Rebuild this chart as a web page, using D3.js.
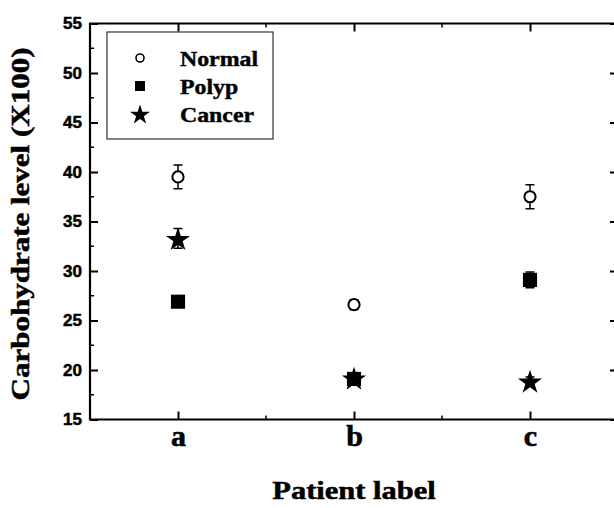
<!DOCTYPE html>
<html>
<head>
<meta charset="utf-8">
<script src="https://cdn.jsdelivr.net/npm/d3@7"></script>
<style>
  body { margin: 0; background: #fff; }
  .axis .domain { display: none; }
  .axis line { stroke: #000; stroke-width: 2; }
</style>
</head>
<body>
<div id="chart"></div>
<script>
// data
const patients = ["a", "b", "c"];
const normal = [39.5, 26.6, 37.5];
const normalErr = [1.2, 0.5, 1.2];
const polyp = [26.9, 19.1, 29.1];
const polypErr = [0.5, 0.5, 0.8];
const cancer = [33.3, 19.2, 18.9];
const cancerErr = [1.0, 0.5, 0.4];
const yTicks = [15, 20, 25, 30, 35, 40, 45, 50, 55];
const yMinor = [17.5, 22.5, 27.5, 32.5, 37.5, 42.5, 47.5, 52.5];
const seriesNames = ["Normal", "Polyp", "Cancer"];

let margin = {top: 23.5, right: -4, bottom: 88.5, left: 90},
  width = 614 - margin.left - margin.right,
  height = 508 - margin.top - margin.bottom;

let svg = d3.select("#chart")
  .append("svg")
    .attr("width", 614)
    .attr("height", 508)
  .append("g")
    .attr("transform", "translate(" + margin.left + "," + margin.top + ")");

let x = d3.scalePoint()
  .domain(patients)
  .range([0, width])
  .padding(0.5);

let y = d3.scaleLinear()
  .domain([15, 55])
  .range([height, 0]);

let serif = "'Liberation Serif', 'Times New Roman', serif";
let sans = "'Liberation Sans', Arial, sans-serif";

// stretch text a bit wider, the scan's lettering is broad
function widen(sel, k) {
  sel.each(function() {
    let w = this.getComputedTextLength();
    d3.select(this).attr("textLength", w * k).attr("lengthAdjust", "spacingAndGlyphs");
  });
}

// heavier strokes like the scanned print
function heavy(sel, w) {
  sel.attr("fill", "#000").attr("stroke", "#000").attr("stroke-width", w);
}

let xMinor = patients.slice(1).map(p => x(p) - x.step() / 2);

// bottom axis
svg.append("g")
  .attr("class", "axis")
  .attr("transform", "translate(0," + height + ")")
  .call(d3.axisBottom(x).tickSizeInner(-8).tickSizeOuter(0).tickPadding(5.5))
  .selectAll("text")
    .style("font-family", serif)
    .style("font-weight", "bold")
    .style("font-size", "30px")
    .call(heavy, 0.6);

// top axis
svg.append("g")
  .attr("class", "axis")
  .call(d3.axisTop(x).tickSizeInner(-8).tickSizeOuter(0).tickFormat(""));

// left axis
svg.append("g")
  .attr("class", "axis")
  .call(d3.axisLeft(y).tickValues(yTicks).tickSizeInner(-8).tickSizeOuter(0).tickPadding(8))
  .selectAll("text")
    .style("font-family", sans)
    .style("font-weight", "bold")
    .style("font-size", "17px")
    .call(heavy, 0.5);

// right axis
svg.append("g")
  .attr("class", "axis")
  .attr("transform", "translate(" + width + ",0)")
  .call(d3.axisRight(y).tickValues(yTicks).tickSizeInner(-8).tickSizeOuter(0).tickFormat(""));

// minor ticks
svg.selectAll(".ymin")
  .data(yMinor)
  .enter()
  .append("path")
    .attr("d", d => "M0," + y(d) + "h4M" + width + "," + y(d) + "h-4")
    .attr("stroke", "#000")
    .attr("stroke-width", 1.5);

svg.selectAll(".xmin")
  .data(xMinor)
  .enter()
  .append("path")
    .attr("d", d => "M" + d + "," + height + "v-4M" + d + ",0v4")
    .attr("stroke", "#000")
    .attr("stroke-width", 1.5);

// frame
svg.append("path")
  .attr("d", "M0,0V" + height + "H" + width + "V0Z")
  .attr("fill", "none")
  .attr("stroke", "#000")
  .attr("stroke-width", 2.2);

// points with error bars
let rows = [];
patients.forEach((p, i) => {
  rows.push({p: p, v: normal[i], e: normalErr[i], s: "Normal"});
  rows.push({p: p, v: polyp[i], e: polypErr[i], s: "Polyp"});
  rows.push({p: p, v: cancer[i], e: cancerErr[i], s: "Cancer"});
});

svg.selectAll(".err")
  .data(rows)
  .enter()
  .append("path")
    .attr("d", d => {
      let cx = x(d.p), y0 = y(d.v - d.e), y1 = y(d.v + d.e);
      return "M" + cx + "," + y0 + "V" + y1 +
        "M" + (cx - 4.5) + "," + y0 + "h9M" + (cx - 4.5) + "," + y1 + "h9";
    })
    .attr("stroke", "#000")
    .attr("stroke-width", 1.5)
    .attr("fill", "none");

function marker(g, s, big) {
  if (s === "Normal") {
    g.append("circle")
      .attr("r", big ? 5.6 : 4)
      .attr("fill", "#fff")
      .attr("stroke", "#000")
      .attr("stroke-width", big ? 2 : 1.6);
  } else if (s === "Polyp") {
    g.append("path")
      .attr("d", d3.symbol(d3.symbolSquare, big ? 200 : 100))
      .attr("fill", "#000");
  } else {
    g.append("path")
      .attr("d", d3.symbol(d3.symbolStar, big ? 180 : 125))
      .attr("fill", "#000")
      .attr("transform", "translate(0," + (big ? 1.5 : 1) + ")");
  }
}

svg.selectAll(".pt")
  .data(rows)
  .enter()
  .append("g")
    .attr("transform", d => "translate(" + x(d.p) + "," + y(d.v) + ")")
    .each(function(d) { marker(d3.select(this), d.s, true); });

// legend
let legend = svg.append("g")
  .attr("transform", "translate(17,8.5)");

legend.append("rect")
  .attr("width", 166)
  .attr("height", 107)
  .attr("fill", "#fff")
  .attr("stroke", "#333")
  .attr("stroke-width", 1.2);

seriesNames.forEach((s, i) => {
  let row = legend.append("g").attr("transform", "translate(0," + (i * 28) + ")");
  row.append("g")
    .attr("transform", "translate(33,26)")
    .call(g => marker(g, s, false));
  row.append("text")
    .attr("x", 73)
    .attr("y", 34)
    .style("font-family", serif)
    .style("font-weight", "bold")
    .style("font-size", "20px")
    .text(s)
    .call(heavy, 0.4)
    .call(widen, 1.19);
});

// axis titles
svg.append("text")
  .attr("x", x("b"))
  .attr("y", height + 79.5)
  .attr("text-anchor", "middle")
  .style("font-family", serif)
  .style("font-weight", "bold")
  .style("font-size", "25px")
  .text("Patient label")
  .call(heavy, 0.5)
  .call(widen, 1.22);

svg.append("text")
  .attr("transform", "translate(" + (-61) + "," + (224 - margin.top) + ") rotate(-90)")
  .attr("text-anchor", "middle")
  .style("font-family", serif)
  .style("font-weight", "bold")
  .style("font-size", "25px")
  .text("Carbohydrate level (X100)")
  .call(heavy, 0.5)
  .call(widen, 1.24);
</script>
</body>
</html>
